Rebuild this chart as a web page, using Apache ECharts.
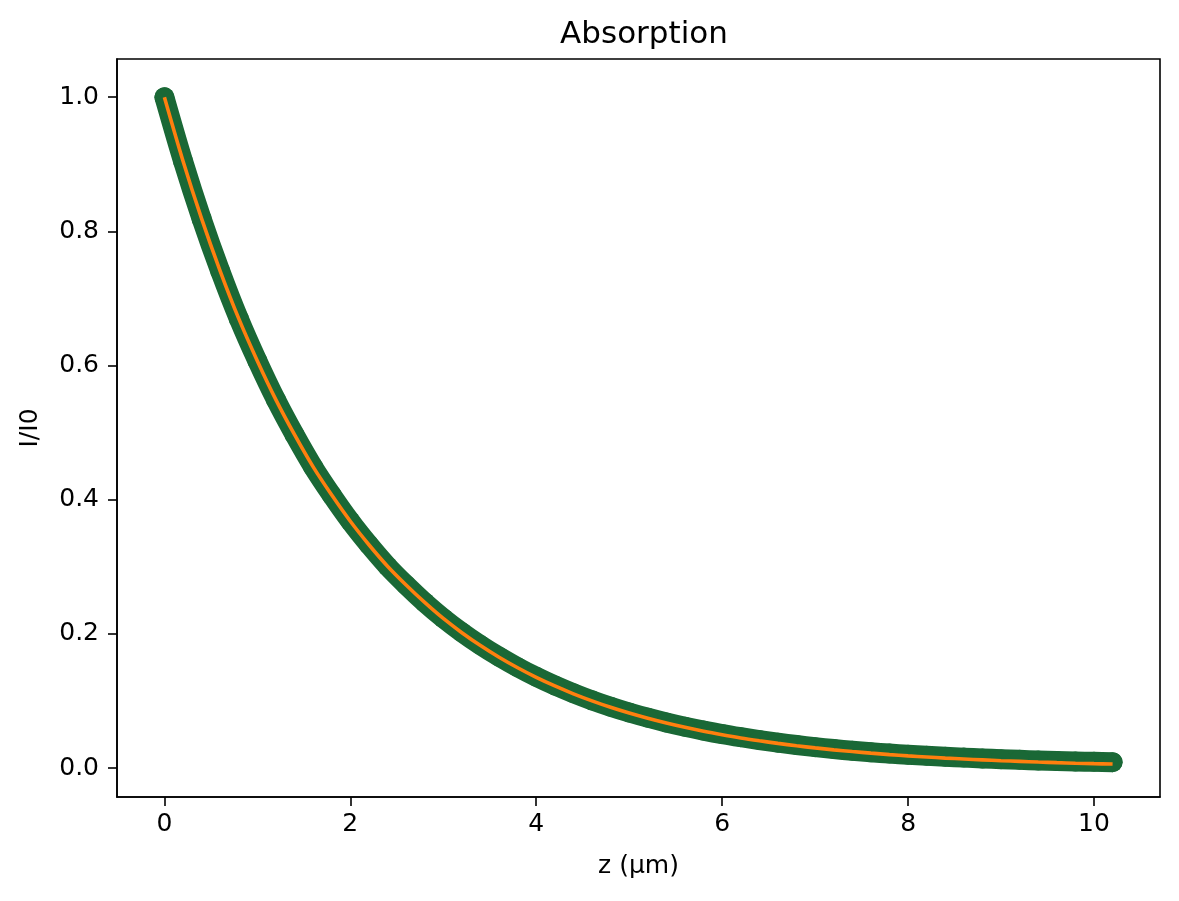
<!DOCTYPE html>
<html>
<head>
<meta charset="utf-8">
<script src="https://cdn.jsdelivr.net/npm/echarts@6/dist/echarts.min.js"></script>
<style>
  html, body { margin: 0; padding: 0; background: #fff; }
  #main { width: 1179px; height: 901px; }
</style>
</head>
<body>
<div id="main"></div>
<script>
// depth z (µm)
var zValues = [0, 0.2, 0.4, 0.6, 0.8, 1.0, 1.2, 1.4, 1.6, 1.8, 2.0, 2.2, 2.4, 2.6, 2.8, 3.0,
  3.2, 3.4, 3.6, 3.8, 4.0, 4.2, 4.4, 4.6, 4.8, 5.0, 5.2, 5.4, 5.6, 5.8, 6.0, 6.2, 6.4, 6.6,
  6.8, 7.0, 7.2, 7.4, 7.6, 7.8, 8.0, 8.2, 8.4, 8.6, 8.8, 9.0, 9.2, 9.4, 9.6, 9.8, 10.0, 10.2];
// measured I/I0 (green dots)
var measured = [1.000, 0.905, 0.819, 0.741, 0.670, 0.607, 0.549, 0.497, 0.449, 0.407, 0.368,
  0.333, 0.301, 0.273, 0.247, 0.2235, 0.2025, 0.1835, 0.1662, 0.1505, 0.1362, 0.1233, 0.1117,
  0.1011, 0.0916, 0.0830, 0.0752, 0.0681, 0.0617, 0.0560, 0.0508, 0.0462, 0.0419, 0.0380,
  0.0345, 0.0313, 0.0285, 0.0259, 0.0236, 0.0217, 0.0200, 0.0185, 0.0170, 0.0157, 0.0145,
  0.0134, 0.0124, 0.0115, 0.0107, 0.0100, 0.0094, 0.0089];
// fitted curve (orange line)
var fitted = [1.000, 0.905, 0.819, 0.741, 0.670, 0.607, 0.549, 0.497, 0.449, 0.407, 0.368,
  0.333, 0.301, 0.273, 0.247, 0.2231, 0.2019, 0.1827, 0.1653, 0.1496, 0.1353, 0.1225, 0.1108,
  0.1003, 0.0907, 0.0821, 0.0743, 0.0672, 0.0608, 0.0550, 0.0498, 0.0450, 0.0408, 0.0369,
  0.0334, 0.0302, 0.0273, 0.0247, 0.0224, 0.0202, 0.0183, 0.0166, 0.0150, 0.0136, 0.0123,
  0.0111, 0.0101, 0.0091, 0.0082, 0.0074, 0.0067, 0.0061];
var xTicks = [0, 2, 4, 6, 8, 10];
var yTicks = [0, 0.2, 0.4, 0.6, 0.8, 1.0];

var font = 'DejaVu Sans';

function pairs(ys) {
  return zValues.map(function (z, i) { return [z, ys[i]]; });
}

var chart = echarts.init(document.getElementById('main'), null, { renderer: 'canvas' });

var option = {
  animation: false,
  backgroundColor: '#fff',
  title: {
    text: 'Absorption',
    left: 639,
    top: 14,
    textAlign: 'center',
    textStyle: { fontFamily: font, fontSize: 31, fontWeight: 'normal', color: '#000' }
  },
  grid: {
    left: 117, right: 19, top: 59, bottom: 104,
    show: true, borderColor: '#000', borderWidth: 1.6, backgroundColor: 'transparent'
  },
  xAxis: {
    type: 'value',
    min: -0.51,
    max: 10.71,
    name: 'z (µm)',
    nameLocation: 'middle',
    nameGap: 57,
    nameTextStyle: { fontFamily: font, fontSize: 25, color: '#000' },
    splitLine: { show: false },
    axisLine: { show: true, onZero: false, lineStyle: { color: '#000', width: 1.6 } },
    axisTick: { show: true, length: 9, customValues: xTicks, lineStyle: { color: '#000', width: 1.6 } },
    axisLabel: {
      customValues: xTicks, margin: 15,
      fontFamily: font, fontSize: 25, color: '#000'
    }
  },
  yAxis: {
    type: 'value',
    min: -0.043,
    max: 1.057,
    name: 'I/I0',
    nameLocation: 'middle',
    nameGap: 74,
    nameRotate: 90,
    nameTextStyle: { fontFamily: font, fontSize: 25, color: '#000' },
    splitLine: { show: false },
    axisLine: { show: true, onZero: false, lineStyle: { color: '#000', width: 1.6 } },
    axisTick: { show: true, length: 9, customValues: yTicks, lineStyle: { color: '#000', width: 1.6 } },
    axisLabel: {
      customValues: yTicks, margin: 18,
      fontFamily: font, fontSize: 25, color: '#000',
      formatter: function (v) { return v.toFixed(1); }
    }
  },
  series: [
    {
      // dense measured points drawn as a band
      type: 'line',
      data: pairs(measured),
      smooth: 0.3,
      symbol: 'none',
      lineStyle: { color: '#1a6836', width: 20, cap: 'round', join: 'round' },
      z: 2
    },
    {
      type: 'scatter',
      data: pairs(measured),
      symbolSize: 20,
      itemStyle: { color: '#1a6836', opacity: 1 },
      z: 3
    },
    {
      type: 'line',
      data: pairs(fitted),
      smooth: 0.3,
      symbol: 'none',
      lineStyle: { color: '#ff7f0e', width: 3.6 },
      z: 4
    }
  ]
};

chart.setOption(option);
</script>
</body>
</html>
